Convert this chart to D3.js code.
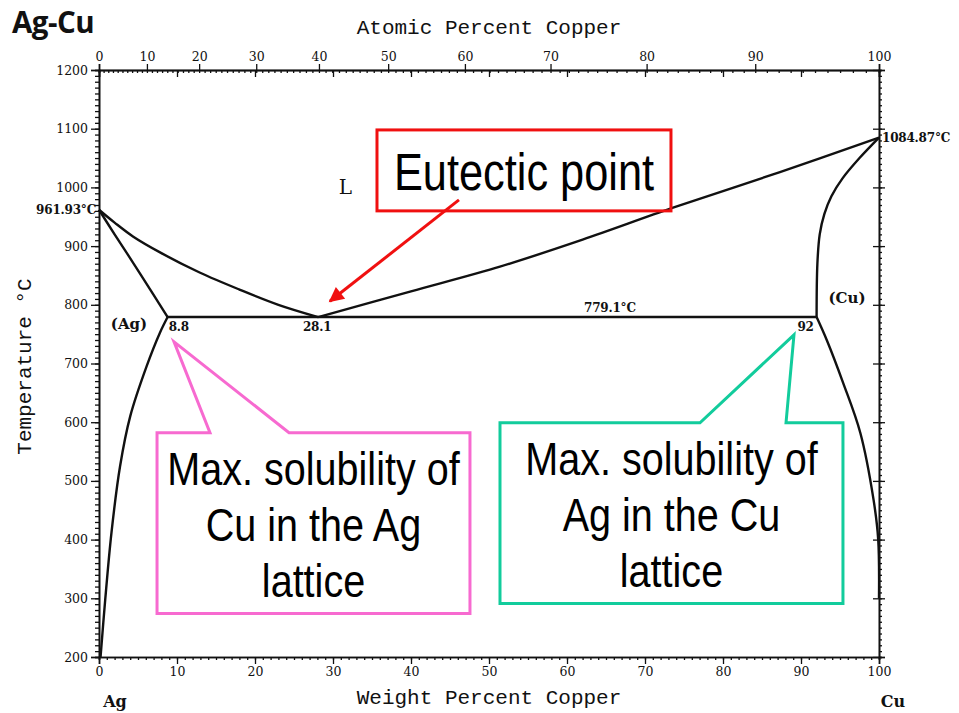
<!DOCTYPE html>
<html>
<head>
<meta charset="utf-8">
<script src="https://cdn.jsdelivr.net/npm/d3@7/dist/d3.min.js"></script>
<style>
  body { margin: 0; background: #fff; }
  svg { display: block; }
</style>
</head>
<body>
<svg id="chart" width="959" height="713"></svg>
<script>
// Ag-Cu equilibrium phase diagram (weight % Cu vs temperature)

const M_CU = 63.546, M_AG = 107.868;

const weightTicks = [0, 10, 20, 30, 40, 50, 60, 70, 80, 90, 100];
const atomicTicks = [0, 10, 20, 30, 40, 50, 60, 70, 80, 90, 100];
const tempTicks = [200, 300, 400, 500, 600, 700, 800, 900, 1000, 1100, 1200];

// Phase boundaries: [wt% Cu, °C]
const liquidusAg = [[0, 961.93], [2, 940], [4.4, 916], [8, 888], [12.9, 855], [18, 826], [23, 800], [28.1, 779.1]];
const liquidusCu = [[28.1, 779.1], [40, 823], [51.4, 865], [62, 911], [73.5, 965], [87.3, 1026], [100, 1084.87]];
const solidusAg = [[0, 961.93], [2, 920], [4.5, 869], [7, 817], [8.8, 779.1]];
const solvusAg = [[8.8, 779.1], [7.8, 752], [6.1, 695], [4.0, 610], [2.7, 525], [1.6, 412], [0.8, 298], [0.2, 200]];
const solidusCu = [[100, 1084.87], [97.5, 1050], [95.3, 1015], [93.9, 985], [93, 955], [92.4, 920], [92.1, 870], [92, 779.1]];
const solvusCu = [[92, 779.1], [93.3, 740], [95.4, 667], [97.6, 582], [99.3, 468], [99.9, 400], [100, 300]];
const eutecticLine = [[8.8, 779.1], [92, 779.1]];

// Invariant points
const meltAg = 961.93, meltCu = 1084.87;
const eutecticT = 779.1, eutecticX = 28.1;
const maxCuInAg = 8.8, maxAgInCu = 92;

const svg = d3.select("#chart");
const margin = { left: 99, top: 70, right: 80, bottom: 56 };
const W = 959, H = 713;

const x = d3.scaleLinear().domain([0, 100]).range([margin.left, W - margin.right]);
const y = d3.scaleLinear().domain([200, 1200]).range([H - margin.bottom, margin.top]);

// atomic % Cu -> weight % Cu
const atToWt = a => 100 * a * M_CU / (a * M_CU + (100 - a) * M_AG);

const tickFont = "'DejaVu Serif', serif";
const monoFont = "'Liberation Mono', 'DejaVu Sans Mono', monospace";
const calloutFont = "'Liberation Sans', Arial, sans-serif";

function styleAxis(g) {
  g.selectAll("path.domain").attr("stroke", "#111").attr("stroke-width", 1.6);
  g.selectAll(".tick line").attr("stroke", "#111").attr("stroke-width", 1.3);
  g.selectAll(".tick text").attr("fill", "#111").style("font-family", tickFont)
    .style("font-size", "12.5px");
}

// Bottom axis: minor ticks each 1 wt%, majors every 10
svg.append("g").attr("transform", `translate(0,${y(200)})`)
  .call(d3.axisBottom(x).tickValues(d3.range(0, 101, 1)).tickSize(3).tickFormat(""))
  .call(styleAxis);
svg.append("g").attr("transform", `translate(0,${y(200)})`)
  .call(d3.axisBottom(x).tickValues(weightTicks).tickSize(7).tickPadding(3).tickFormat(d3.format("d")))
  .call(styleAxis);

// Left axis: minor every 10 °C, majors every 100
svg.append("g").attr("transform", `translate(${x(0)},0)`)
  .call(d3.axisLeft(y).tickValues(d3.range(200, 1201, 10)).tickSize(4).tickFormat(""))
  .call(styleAxis);
svg.append("g").attr("transform", `translate(${x(0)},0)`)
  .call(d3.axisLeft(y).tickValues(tempTicks).tickSize(8).tickPadding(3).tickFormat(d3.format("d")))
  .call(styleAxis);

// Right axis: ticks only
svg.append("g").attr("transform", `translate(${x(100)},0)`)
  .call(d3.axisRight(y).tickValues(d3.range(200, 1201, 10)).tickSize(3).tickFormat(""))
  .call(styleAxis);
svg.append("g").attr("transform", `translate(${x(100)},0)`)
  .call(d3.axisRight(y).tickValues(tempTicks).tickSize(6).tickFormat(""))
  .call(styleAxis);
svg.append("g").attr("transform", `translate(${x(100)},0)`)
  .call(d3.axisLeft(y).tickValues(tempTicks).tickSize(6).tickFormat(""))
  .call(g => g.select("path.domain").remove())
  .call(styleAxis);

// Top axis: atomic percent ticks outward, weight percent majors inward
svg.append("g").attr("transform", `translate(0,${y(1200)})`)
  .call(d3.axisBottom(x).tickValues(d3.range(0, 101, 1).map(atToWt)).tickSize(3).tickFormat(""))
  .call(styleAxis);
svg.append("g").attr("transform", `translate(0,${y(1200)})`)
  .call(d3.axisBottom(x).tickValues(weightTicks).tickSize(7).tickFormat(""))
  .call(styleAxis);
svg.append("g").attr("transform", `translate(0,${y(1200)})`)
  .call(d3.axisTop(x).tickValues(atomicTicks.map(atToWt)).tickSize(6).tickPadding(3)
    .tickFormat((d, i) => atomicTicks[i]))
  .call(styleAxis);

// Axis titles
svg.append("text").attr("x", (x(0) + x(100)) / 2).attr("y", 34)
  .attr("text-anchor", "middle").style("font-family", monoFont).style("font-size", "21px")
  .attr("fill", "#111").text("Atomic Percent Copper");
svg.append("text").attr("x", (x(0) + x(100)) / 2).attr("y", 704)
  .attr("text-anchor", "middle").style("font-family", monoFont).style("font-size", "21px")
  .attr("fill", "#111").text("Weight Percent Copper");
svg.append("text").attr("transform", `translate(31,${y(700) + 3}) rotate(-90)`)
  .attr("text-anchor", "middle").style("font-family", monoFont).style("font-size", "21px")
  .attr("fill", "#111").text("Temperature °C");

// Title
svg.append("text").attr("x", 12).attr("y", 33)
  .style("font-family", "'Open Sans', sans-serif").style("font-weight", 700)
  .style("font-size", "29.5px").attr("fill", "#111").attr("letter-spacing", "-0.5")
  .text("Ag-Cu");

// Phase boundaries
const line = d3.line().x(d => x(d[0])).y(d => y(d[1])).curve(d3.curveCatmullRom.alpha(0.5));
const boundaries = [liquidusAg, liquidusCu, solidusAg, solvusAg, solidusCu, solvusCu, eutecticLine];
svg.append("g").selectAll("path").data(boundaries).join("path")
  .attr("d", line).attr("fill", "none").attr("stroke", "#111")
  .attr("stroke-width", 2.4).attr("stroke-linejoin", "round");

// Point labels
const small = (t, px, py, anchor) => svg.append("text").attr("x", px).attr("y", py)
  .attr("text-anchor", anchor || "start").style("font-family", tickFont)
  .style("font-weight", 700).style("font-size", "12px").attr("fill", "#111")
  .attr("letter-spacing", "-0.2").text(t);
small(meltAg.toFixed(2) + "°C", x(0) - 3, y(meltAg) + 4, "end");
small(meltCu.toFixed(2) + "°C", x(100) + 3, y(meltCu) + 4, "start");
small(String(maxCuInAg), x(maxCuInAg) + 1, y(eutecticT) + 14, "start");
small(String(eutecticX), x(eutecticX) - 1, y(eutecticT) + 14, "middle");
small(eutecticT + "°C", x(65.5), y(eutecticT) - 5, "middle");
small(String(maxAgInCu), x(maxAgInCu) - 11, y(eutecticT) + 14, "middle");

const phase = (t, px, py, size) => svg.append("text").attr("x", px).attr("y", py)
  .attr("text-anchor", "middle").style("font-family", tickFont)
  .style("font-size", size).attr("fill", "#111").text(t);
phase("(Ag)", 129, y(eutecticT) + 12, "15px").style("font-weight", 700);
phase("(Cu)", 847, y(eutecticT) - 14, "15px").style("font-weight", 700);
phase("L", x(31.6), y(988), "20px");
phase("Ag", 115, 707, "16px").style("font-weight", 700);
phase("Cu", 893, 707, "16px").style("font-weight", 700);

// Condensed annotation text: Arial-metric font squeezed horizontally
function condensed(g, t, cx, baseline, size, sx) {
  g.append("text").attr("transform", `translate(${cx},${baseline}) scale(${sx},1)`)
    .attr("text-anchor", "middle").style("font-family", calloutFont)
    .style("font-size", size + "px").attr("fill", "#000").text(t);
}

// Annotation: eutectic point
const red = "#f01010";
svg.append("defs").append("marker").attr("id", "arrowRed")
  .attr("viewBox", "0 0 10 10").attr("refX", 9).attr("refY", 5)
  .attr("markerWidth", 5.5).attr("markerHeight", 5).attr("orient", "auto")
  .attr("markerUnits", "strokeWidth")
  .append("path").attr("d", "M0,0 L10,5 L0,10 Z").attr("fill", red);

svg.append("rect").attr("x", x(35.64)).attr("y", y(1097.9))
  .attr("width", x(73.33) - x(35.64)).attr("height", y(960) - y(1097.9))
  .attr("fill", "none").attr("stroke", red).attr("stroke-width", 3);
condensed(svg, "Eutectic point", (x(35.64) + x(73.33)) / 2, y(1097.9) + 60, 51, 0.85);
svg.append("line").attr("x1", x(46.15)).attr("y1", y(978.7))
  .attr("x2", x(29.6)).attr("y2", y(806))
  .attr("stroke", red).attr("stroke-width", 3).attr("marker-end", "url(#arrowRed)");

// Callouts for maximum solid solubility
function callout(box, base, tip, color, lines) {
  const [x0, x1, t0, t1] = box;
  const pts = [
    [x(x0), y(t0)], [x(base[0]), y(t0)], [x(tip[0]), y(tip[1])], [x(base[1]), y(t0)],
    [x(x1), y(t0)], [x(x1), y(t1)], [x(x0), y(t1)]
  ];
  svg.append("path").attr("d", "M" + pts.join("L") + "Z")
    .attr("fill", "none").attr("stroke", color).attr("stroke-width", 3)
    .attr("stroke-linejoin", "miter");
  const cx = (x(x0) + x(x1)) / 2;
  const g = svg.append("g");
  lines.forEach((t, i) => condensed(g, t, cx, y(t0) + 52 + i * 56, 46, 0.86));
}
callout([7.44, 47.56, 582.2, 274.0], [14.23, 24.36], [9.62, 737], "#f76ad0",
  ["Max. solubility of", "Cu in the Ag", "lattice"]);
callout([51.41, 95.38, 599.1, 291.1], [77.05, 88.08], [89.1, 748.9], "#12cc9c",
  ["Max. solubility of", "Ag in the Cu", "lattice"]);
</script>
</body>
</html>
